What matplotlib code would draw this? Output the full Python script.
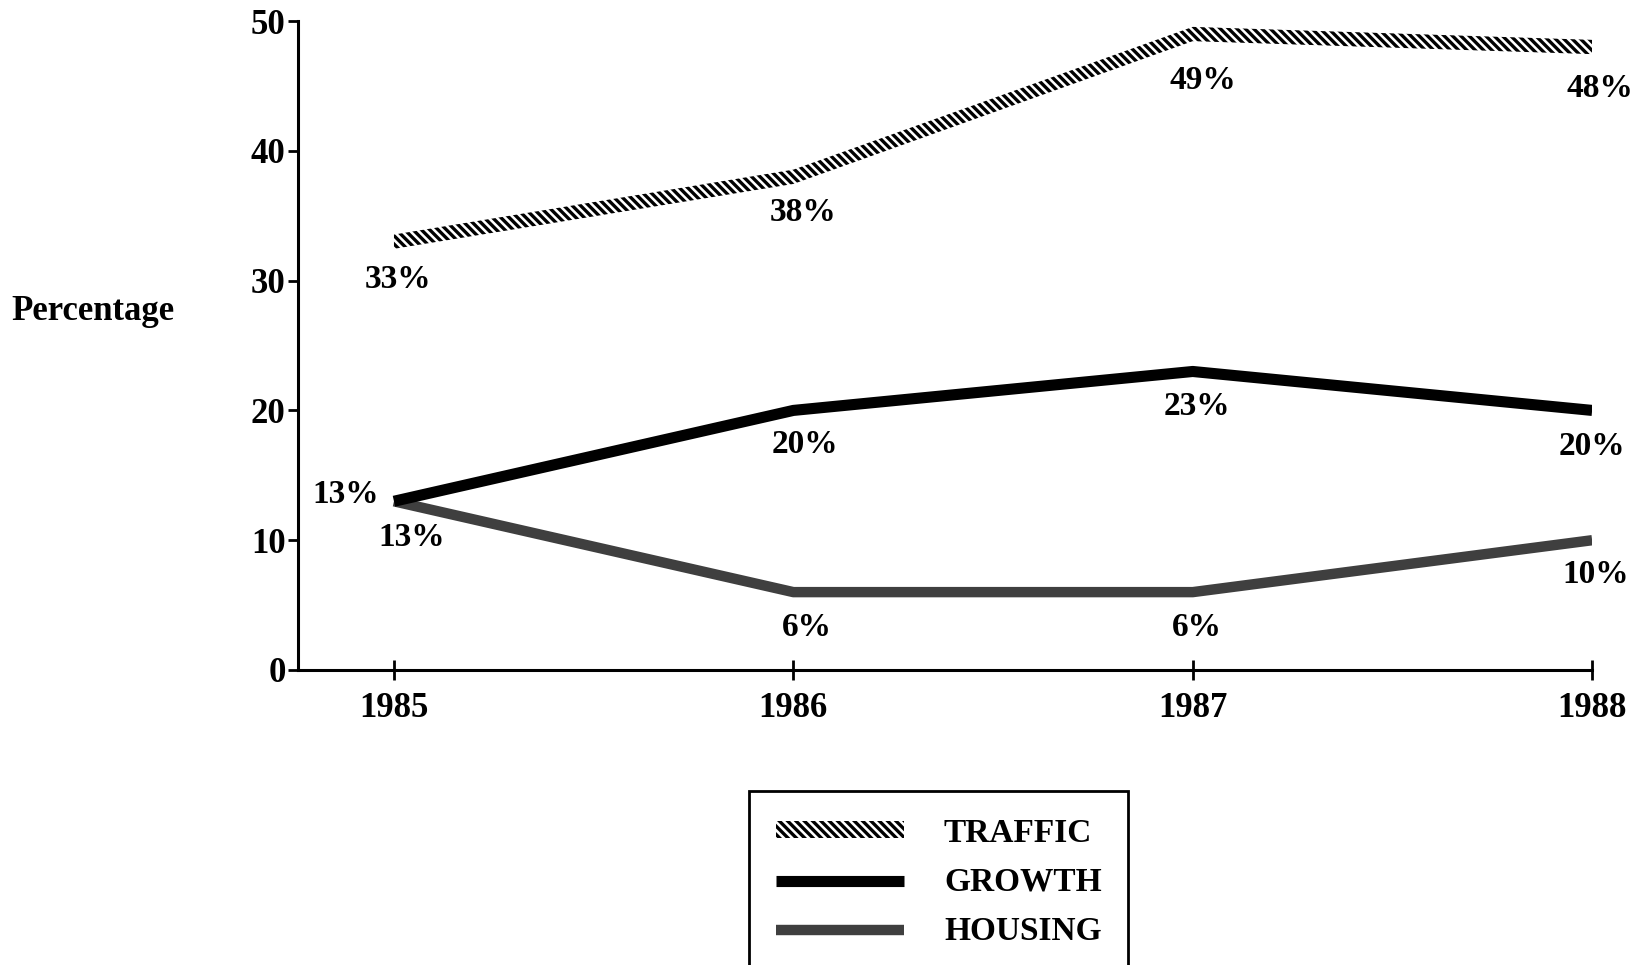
import matplotlib.pyplot as plt
import numpy as np
from matplotlib.lines import Line2D
from matplotlib.patches import Patch

# Datos por año (porcentaje)
years = [1985, 1986, 1987, 1988]
traffic = [33, 38, 49, 48]
growth = [13, 20, 23, 20]
housing = [13, 6, 6, 10]

# desplazamiento de las etiquetas respecto al punto (px)
traffic_off = [(4, -38), (10, -36), (10, -46), (8, -42)]
growth_off = [(-48, 7), (12, -34), (4, -35), (0, -36)]
housing_off = [(18, -36), (14, -35), (4, -35), (4, -34)]

plt.rcParams['font.family'] = ['Liberation Serif', 'DejaVu Serif']
plt.rcParams['font.weight'] = 'bold'
plt.rcParams['hatch.linewidth'] = 2.4
plt.rcParams['hatch.color'] = 'black'

fig = plt.figure(figsize=(16.38, 9.65), dpi=100)
ax = fig.add_axes([0.182, 0.3057, 0.790, 0.6725])

# TRAFFIC: banda rayada en diagonal
t = np.array(traffic, dtype=float)
ax.fill_between(years, t - 0.55, t + 0.55, facecolor='none', edgecolor='black',
                hatch='\\\\\\\\', linewidth=0)
# GROWTH: línea negra gruesa
ax.plot(years, growth, color='black', linewidth=8, solid_capstyle='butt', zorder=3)
# HOUSING: línea gris
ax.plot(years, housing, color='#3f3f3f', linewidth=7.5, solid_capstyle='butt', zorder=2)

for serie, offs in ((traffic, traffic_off), (growth, growth_off), (housing, housing_off)):
    for x, y, (dx, dy) in zip(years, serie, offs):
        ax.annotate(f"{y}%", (x, y), xytext=(dx, dy), textcoords='offset pixels',
                    ha='center', va='center', fontsize=24, fontweight='bold')

ax.set_xlim(1984.76, 1988.0)
ax.set_ylim(0, 50)
ax.set_xticks(years)
ax.set_yticks([0, 10, 20, 30, 40, 50])
ax.spines['top'].set_visible(False)
ax.spines['right'].set_visible(False)
for s in ('left', 'bottom'):
    ax.spines[s].set_linewidth(2.2)
ax.tick_params(axis='y', direction='out', length=7, width=2, labelsize=25, pad=2)
ax.tick_params(axis='x', direction='inout', length=14, width=2, labelsize=25, pad=9)
for lbl in ax.get_xticklabels() + ax.get_yticklabels():
    lbl.set_fontweight('bold')

fig.text(0.057, 0.677, "Percentage", ha='center', va='center', fontsize=25, fontweight='bold')

# Leyenda
handles = [
    Patch(facecolor='none', edgecolor='black', hatch='\\\\\\\\', linewidth=0),
    Line2D([], [], color='black', linewidth=8, solid_capstyle='butt'),
    Line2D([], [], color='#3f3f3f', linewidth=7.5, solid_capstyle='butt'),
]
leg = fig.legend(handles, ["TRAFFIC", "GROWTH", "HOUSING"], loc='upper left',
                 bbox_to_anchor=(749 / 1638, 1 - 791 / 965), borderaxespad=0,
                 prop={'size': 24, 'weight': 'bold'},
                 handlelength=3.85, handleheight=0.4, handletextpad=1.2, labelspacing=0.54,
                 borderpad=0.8, fancybox=False, framealpha=1, edgecolor='black')
leg.get_frame().set_linewidth(2)

fig.savefig("out.png", dpi=100)
